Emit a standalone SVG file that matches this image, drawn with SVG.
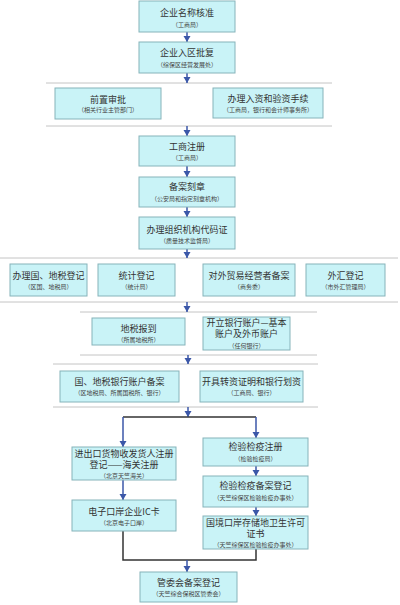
<svg xmlns="http://www.w3.org/2000/svg" width="400" height="605" viewBox="0 0 400 605">
<style>
.b{fill:#c9f3f7;stroke:#86b3ba;stroke-width:1}
.t{font-family:"Noto Sans CJK SC",sans-serif;font-size:9px;fill:#333;text-anchor:middle}
.s{font-family:"Noto Sans CJK SC",sans-serif;font-size:6px;fill:#444;text-anchor:middle}
.sep{stroke:#c4c4c4;stroke-width:1;fill:none}
.k{stroke:#333;stroke-width:1.5;fill:none}
.kb{stroke:#3b57a8;stroke-width:1.5;fill:none}
</style>
<rect width="400" height="605" fill="#fff"/>
<g id="separators">
<line class="sep" x1="46" y1="83" x2="332" y2="83"/>
<line class="sep" x1="46" y1="126" x2="332" y2="126"/>
<line class="sep" x1="0" y1="258" x2="398" y2="258"/>
<line class="sep" x1="0" y1="302" x2="398" y2="302"/>
<line class="sep" x1="80" y1="312" x2="317" y2="312"/>
<line class="sep" x1="80" y1="355" x2="317" y2="355"/>
<line class="sep" x1="53" y1="364" x2="318" y2="364"/>
<line class="sep" x1="53" y1="407" x2="318" y2="407"/>
</g>
<g id="connectors">
<line class="kb" x1="187" y1="32" x2="187" y2="42"/>
<line class="kb" x1="187" y1="73" x2="187" y2="83"/>
<line class="kb" x1="187" y1="126" x2="187" y2="136"/>
<line class="kb" x1="187" y1="166" x2="187" y2="177"/>
<line class="kb" x1="187" y1="207" x2="187" y2="217"/>
<line class="kb" x1="187" y1="249" x2="187" y2="258"/>
<line class="kb" x1="187" y1="302" x2="187" y2="312"/>
<line class="kb" x1="188" y1="355" x2="188" y2="364"/>
<line class="kb" x1="188" y1="407" x2="188" y2="417"/>
<line class="k" x1="123" y1="417" x2="256" y2="417"/>
<line class="kb" x1="123" y1="417" x2="123" y2="447"/>
<line class="kb" x1="256" y1="417" x2="256" y2="438"/>
<line class="kb" x1="123" y1="480" x2="123" y2="500"/>
<line class="kb" x1="256" y1="466" x2="256" y2="476"/>
<line class="kb" x1="256" y1="507" x2="256" y2="516"/>
<polyline class="k" points="123,531 123,560 256,560 256,549"/>
<line class="kb" x1="187" y1="560" x2="187" y2="572"/>
<g fill="#3b57a8">
<path d="M183.5,36 L190.5,36 L187,42 Z"/>
<path d="M183.5,77 L190.5,77 L187,83 Z"/>
<path d="M183.5,130 L190.5,130 L187,136 Z"/>
<path d="M183.5,171 L190.5,171 L187,177 Z"/>
<path d="M183.5,211 L190.5,211 L187,217 Z"/>
<path d="M183.5,252 L190.5,252 L187,258 Z"/>
<path d="M183.5,306 L190.5,306 L187,312 Z"/>
<path d="M184.5,358 L191.5,358 L188,364 Z"/>
<path d="M184.5,411 L191.5,411 L188,417 Z"/>
<path d="M119.5,441 L126.5,441 L123,447 Z"/>
<path d="M252.5,432 L259.5,432 L256,438 Z"/>
<path d="M119.5,494 L126.5,494 L123,500 Z"/>
<path d="M252.5,470 L259.5,470 L256,476 Z"/>
<path d="M252.5,510 L259.5,510 L256,516 Z"/>
<path d="M183.5,566 L190.5,566 L187,572 Z"/>
</g>
</g>
<g id="n1"><rect class="b" x="139" y="1" width="96" height="31"/><text class="t" x="187" y="16">企业名称核准</text><text class="s" x="187" y="26.5">（工商局）</text></g>
<g id="n2"><rect class="b" x="139" y="42" width="96" height="31"/><text class="t" x="187" y="56">企业入区批复</text><text class="s" x="187" y="66.5">（综保区经营发展处）</text></g>
<g id="n3"><rect class="b" x="55" y="88" width="106" height="31"/><text class="t" x="108" y="102.5">前置审批</text><text class="s" x="108" y="112">（相关行业主管部门）</text></g>
<g id="n4"><rect class="b" x="213" y="88" width="110" height="30"/><text class="t" x="268" y="102">办理入资和验资手续</text><text class="s" x="268" y="111.5">（工商局，银行和会计师事务所）</text></g>
<g id="n5"><rect class="b" x="139" y="136" width="96" height="30"/><text class="t" x="187" y="150">工商注册</text><text class="s" x="187" y="160">（工商局）</text></g>
<g id="n6"><rect class="b" x="139" y="177" width="96" height="30"/><text class="t" x="187" y="190">备案刻章</text><text class="s" x="187" y="201">（公安局和指定刻章机构）</text></g>
<g id="n7"><rect class="b" x="139" y="217" width="96" height="32"/><text class="t" x="187" y="232.5">办理组织机构代码证</text><text class="s" x="187" y="243">（质量技术监督局）</text></g>
<g id="n8"><rect class="b" x="10" y="264" width="77" height="32"/><text class="t" x="48.5" y="279">办理国、地税登记</text><text class="s" x="48.5" y="289">（区国、地税局）</text></g>
<g id="n9"><rect class="b" x="98" y="264" width="77" height="32"/><text class="t" x="136.5" y="279">统计登记</text><text class="s" x="136.5" y="289">（统计局）</text></g>
<g id="n10"><rect class="b" x="203" y="264" width="92" height="32"/><text class="t" x="249" y="279">对外贸易经营者备案</text><text class="s" x="249" y="289">（商务委）</text></g>
<g id="n11"><rect class="b" x="306" y="264" width="79" height="32"/><text class="t" x="345.5" y="279">外汇登记</text><text class="s" x="345.5" y="289">（市外汇管理局）</text></g>
<g id="n12"><rect class="b" x="92" y="318" width="93" height="27"/><text class="t" x="138.5" y="331.5">地税报到</text><text class="s" x="138.5" y="341.5">（所属地税所）</text></g>
<g id="n13"><rect class="b" x="203" y="317" width="87" height="33"/><text class="t" x="246.5" y="325.5">开立银行账户—基本</text><text class="t" x="246.5" y="337">账户及外币账户</text><text class="s" x="246.5" y="347.5">（任何银行）</text></g>
<g id="n14"><rect class="b" x="60" y="371" width="119" height="31"/><text class="t" x="119.5" y="385">国、地税银行账户备案</text><text class="s" x="119.5" y="395">（区地税局、所属国税所、银行）</text></g>
<g id="n15"><rect class="b" x="200" y="371" width="103" height="31"/><text class="t" x="251.5" y="385">开具转资证明和银行划资</text><text class="s" x="251.5" y="395">（工商局、银行）</text></g>
<g id="n16"><rect class="b" x="72" y="447" width="104" height="33"/><text class="t" x="124" y="456.5">进出口货物收发货人注册</text><text class="t" x="124" y="468">登记——海关注册</text><text class="s" x="124" y="478">（北京天竺海关）</text></g>
<g id="n17"><rect class="b" x="203" y="438" width="105" height="28"/><text class="t" x="255.5" y="450">检验检疫注册</text><text class="s" x="255.5" y="460.5">（检验检疫局）</text></g>
<g id="n18"><rect class="b" x="203" y="476" width="105" height="31"/><text class="t" x="255.5" y="489">检验检疫备案登记</text><text class="s" x="255.5" y="500">（天竺综保区检验检疫办事处）</text></g>
<g id="n19"><rect class="b" x="72" y="500" width="104" height="31"/><text class="t" x="124" y="515">电子口岸企业IC卡</text><text class="s" x="124" y="525">（北京电子口岸）</text></g>
<g id="n20"><rect class="b" x="203" y="516" width="105" height="33"/><text class="t" x="255.5" y="525.5">国境口岸存储地卫生许可</text><text class="t" x="255.5" y="537">证书</text><text class="s" x="255.5" y="547">（天竺综保区检验检疫办事处）</text></g>
<g id="n21"><rect class="b" x="140" y="572" width="97" height="30"/><text class="t" x="188.5" y="586">管委会备案登记</text><text class="s" x="188.5" y="596">（天竺综合保税区管委会）</text></g>
</svg>
